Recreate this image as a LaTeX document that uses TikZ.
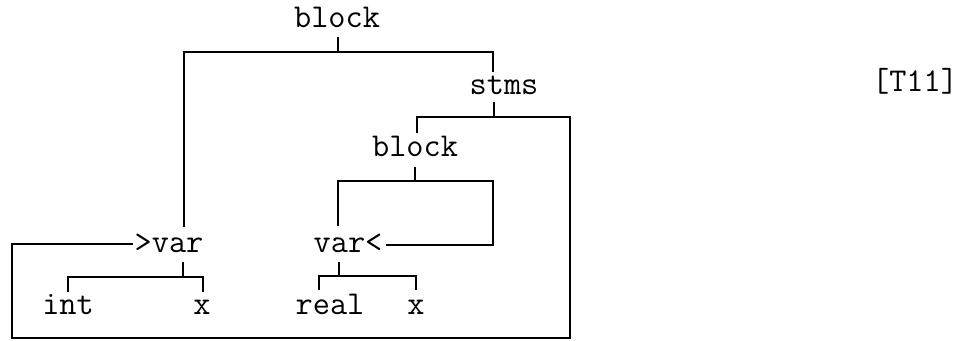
\documentclass[tikz,border=0pt]{standalone}
\usepackage{fontspec}
\setmonofont{Latin Modern Mono}
\begin{document}
\begin{tikzpicture}[x=0.75pt,y=-0.75pt,
  lbl/.style={anchor=base,inner sep=0pt,font=\ttfamily\fontsize{25}{28}\selectfont},
  ln/.style={line width=1.4pt,line cap=butt,line join=miter}]
\useasboundingbox (0,0) rectangle (976,341);
% nodes
\node[lbl] (b1) at (337,28) {block};
\node[lbl] (st) at (504,95) {stms};
\node[lbl] (b2) at (415,157) {block};
\node[lbl] (v1) at (169,253) {>var};
\node[lbl] (v2) at (348,253) {var<};
\node[lbl] (int) at (68,315) {int};
\node[lbl] (x1) at (202,315) {x};
\node[lbl] (real) at (330,315) {real};
\node[lbl] (x2) at (416,315) {x};
\node[lbl] (tag) at (915,92) {[T11]};
% connector ends
\coordinate (b1d) at (338,37);
\coordinate (v1u) at (184,227);
\coordinate (stu) at (493,72);
\coordinate (std) at (494,102);
\coordinate (b2u) at (417,133);
\coordinate (b2d) at (415,167);
\coordinate (v2u) at (338,226);
\coordinate (v2r) at (386,245);
\coordinate (v1l) at (133,244);
\coordinate (v1d) at (183,262);
\coordinate (intu) at (68,292);
\coordinate (x1u) at (203,292);
\coordinate (v2d) at (339,262);
\coordinate (realu) at (319,290);
\coordinate (x2u) at (416,290);
% block -> var, stms
\draw[ln] (b1d) -- (338,52);
\draw[ln] (v1u) |- (stu |- 0,52) -- (stu);
% stms -> block, loop
\draw[ln] (std) -- (494,117);
\draw[ln] (b2u) |- (570,117) |- (12,338) |- (v1l);
% block -> var<, return
\draw[ln] (b2d) -- (415,181);
\draw[ln] (v2u) |- (493,181) |- (v2r);
% >var -> int, x
\draw[ln] (v1d) -- (183,277);
\draw[ln] (intu) |- (x1u |- 0,277) -- (x1u);
% var< -> real, x
\draw[ln] (v2d) -- (339,276);
\draw[ln] (realu) |- (x2u |- 0,276) -- (x2u);
\end{tikzpicture}
\end{document}
